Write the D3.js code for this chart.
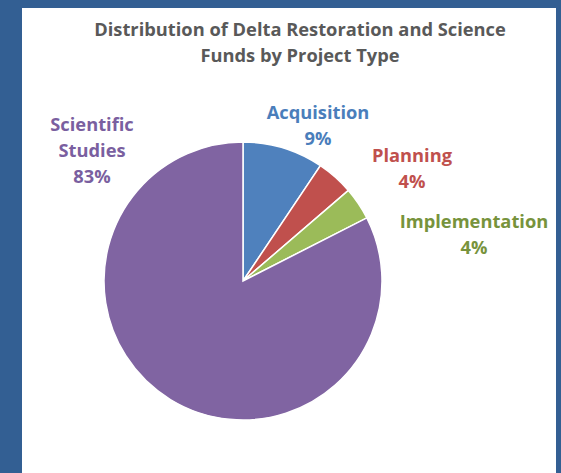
<!DOCTYPE html>
<html><head><meta charset="utf-8">
<script src="https://cdn.jsdelivr.net/npm/d3@7"></script>
<style>html,body{margin:0;padding:0;background:#335f93;overflow:hidden}</style>
</head><body>
<script>
const categories = ["Acquisition", "Planning", "Implementation", "Scientific Studies"];
const values = [9.4, 4.3, 3.8, 82.5];
const percentLabels = ["9%", "4%", "4%", "83%"];
const titleLines = ["Distribution of Delta Restoration and Science", "Funds by Project Type"];

const colors = ["#4f81bd", "#c0504d", "#9bbb59", "#8064a2"];
const labelColors = ["#4a7ebb", "#c0504d", "#77933c", "#7a5fa0"];
const labelPos = [[318, 113], [412, 156], [474, 222], [92, 125]];

const W = 561, H = 473;
const svg = d3.select("body").append("svg").attr("width", W).attr("height", H);
svg.append("rect").attr("width", W).attr("height", H).attr("fill", "#335f93");
svg.append("rect").attr("x", 22).attr("y", 8).attr("width", 534).attr("height", 470).attr("fill", "#ffffff");

const font = "'Open Sans', sans-serif";
svg.selectAll("text.title").data(titleLines).join("text")
  .attr("class", "title")
  .attr("x", 300).attr("y", (d, i) => 36 + i * 26)
  .attr("text-anchor", "middle")
  .attr("font-family", font).attr("font-weight", "bold").attr("font-size", 18.3)
  .attr("fill", "#595959").text(d => d);

const cx = 243, cy = 281, r = 139;
const data = categories.map((c, i) => ({cat: c, value: values[i], pct: percentLabels[i], i}));
const pie = d3.pie().value(d => d.value).sort(null);
const arc = d3.arc().innerRadius(0).outerRadius(r);
const g = svg.append("g").attr("transform", `translate(${cx},${cy})`);
g.selectAll("path").data(pie(data)).join("path")
  .attr("d", arc).attr("fill", d => colors[d.data.i])
  .attr("stroke", "#ffffff").attr("stroke-width", 1.5);

const labels = svg.selectAll("text.lbl").data(data).join("text")
  .attr("class", "lbl")
  .attr("text-anchor", "middle")
  .attr("font-family", font).attr("font-weight", "bold").attr("font-size", 18.3)
  .attr("fill", d => labelColors[d.i]);
labels.each(function(d) {
  const t = d3.select(this);
  const lines = d.cat.split(" ").concat([d.pct]);
  const [x, y] = labelPos[d.i];
  lines.forEach((ln, k) => {
    t.append("tspan").attr("x", x).attr("y", y + 6 + k * 26).text(ln);
  });
});
</script>
</body></html>
